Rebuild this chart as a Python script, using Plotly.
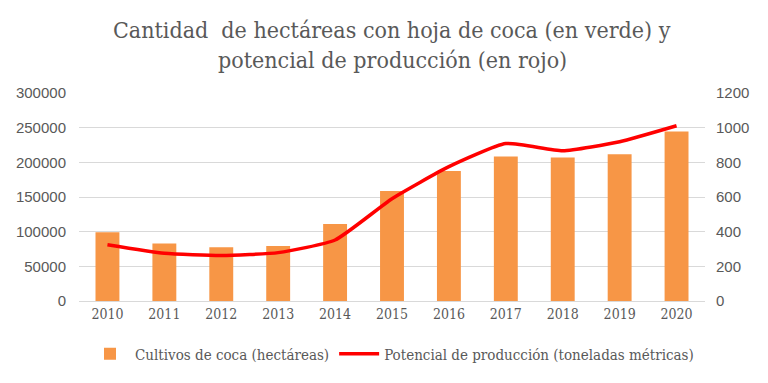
import plotly.graph_objects as go

years = ["2010", "2011", "2012", "2013", "2014", "2015", "2016", "2017", "2018", "2019", "2020"]
hectareas = [99000, 83000, 77500, 79500, 111000, 158500, 187500, 208500, 207000, 211500, 244500]
produccion = [325, 275, 262, 279, 352, 590, 775, 908, 867, 919, 1011]

left_ticks = [0, 50000, 100000, 150000, 200000, 250000, 300000]
right_ticks = [0, 200, 400, 600, 800, 1000, 1200]

title_lines = ["Cantidad  de hectáreas con hoja de coca (en verde) y",
               "potencial de producción (en rojo)"]

serif = "DejaVu Serif Condensed, Liberation Serif, serif"
sans = "Liberation Sans, Arial, sans-serif"
gray = "#595959"

# page body has an 8px margin, so the figure is sized 8px smaller
fig = go.Figure()
fig.add_trace(go.Bar(
    x=years, y=hectareas, name="Cultivos de coca (hectáreas)",
    marker=dict(color="#F79646", line=dict(width=0)),
    yaxis="y",
))
fig.add_trace(go.Scatter(
    x=years, y=produccion, name="Potencial de producción (toneladas métricas)",
    mode="lines", line=dict(color="#FF0000", width=3.5, shape="spline", smoothing=0.5),
    yaxis="y2",
))

fig.update_layout(
    width=760, height=375,
    margin=dict(l=71, r=63, t=85, b=82, autoexpand=False),
    paper_bgcolor="white", plot_bgcolor="white",
    bargap=0.58,
    xaxis=dict(
        type="category", showgrid=False, showline=True, linecolor="#d9d9d9", linewidth=1,
        ticks="", tickfont=dict(family=serif, size=14, color=gray),
    ),
    yaxis=dict(
        range=[0, 300000], tickvals=left_ticks, ticktext=[str(v) for v in left_ticks],
        showgrid=True, gridcolor="#d9d9d9", gridwidth=1, zeroline=False,
        tickfont=dict(family=sans, size=15, color=gray), ticks="", showline=False,
        ticklabelstandoff=12,
    ),
    yaxis2=dict(
        range=[0, 1200], tickvals=right_ticks, ticktext=[str(v) for v in right_ticks],
        overlaying="y", side="right", showgrid=False, zeroline=False,
        tickfont=dict(family=sans, size=15, color=gray), ticks="", showline=False,
        ticklabelstandoff=10,
    ),
    legend=dict(
        orientation="h", x=0.5, xanchor="center", y=-0.255, yanchor="middle",
        font=dict(family=serif, size=15, color=gray), bgcolor="rgba(0,0,0,0)",
        itemwidth=40,
    ),
    showlegend=True,
)
for txt, yp in zip(title_lines, [1 + 63 / 208, 1 + 33 / 208]):
    fig.add_annotation(text=txt, xref="paper", yref="paper", x=0.5, y=yp,
                       xanchor="center", yanchor="middle", showarrow=False,
                       font=dict(family=serif, size=23, color=gray))

fig.write_html("out.html")
